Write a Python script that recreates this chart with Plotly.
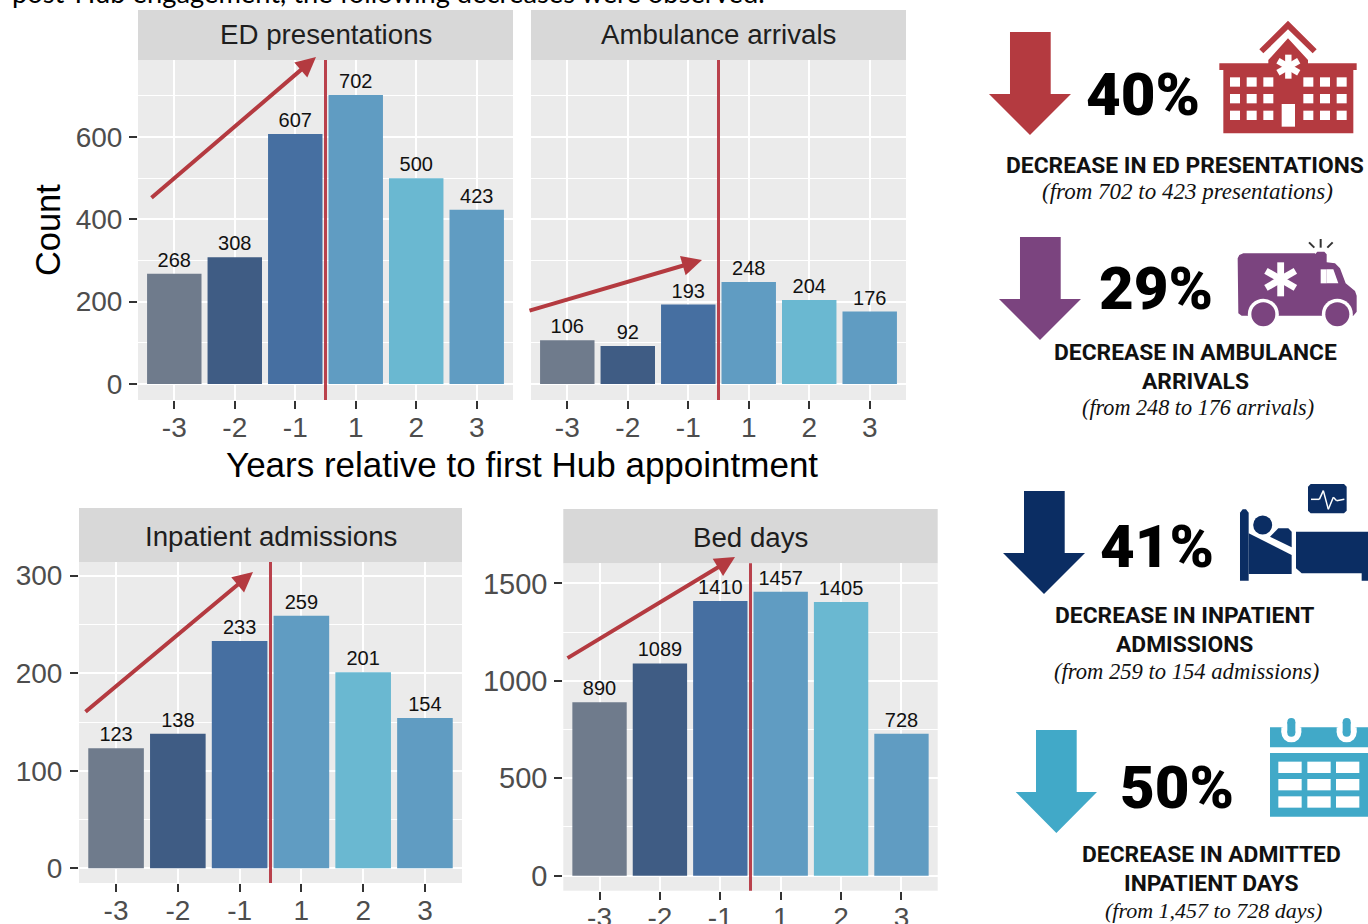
import math
import plotly.graph_objects as go

W, H = 1368, 924

# ---------- data ----------
categories = ["-3", "-2", "-1", "1", "2", "3"]
ed_presentations = [268, 308, 607, 702, 500, 423]
ambulance_arrivals = [106, 92, 193, 248, 204, 176]
inpatient_admissions = [123, 138, 233, 259, 201, 154]
bed_days = [890, 1089, 1410, 1457, 1405, 728]
bar_colors = ["rgba(105,118,135,0.96)", "rgba(55,85,127,0.96)", "rgba(62,105,157,0.96)",
              "rgba(89,152,192,0.96)", "rgba(100,181,207,0.96)", "rgba(89,152,192,0.96)"]

RED, PURPLE, NAVY, TEAL = "#B43A40", "#7B447F", "#0B2D63", "#41A9C8"
SANS, SERIF = "Liberation Sans", "Liberation Serif"


def X(p):
    return p / W


def Y(p):
    return 1 - p / H


panels = [
    dict(name="ED presentations", vals=ed_presentations, box=(138, 513, 60, 400), strip=10,
         yr=(-38.9, 787), dtick=200, minor=100, labels=True, tick=28, off=1, tail=(150, 199), tip=(316, 57)),
    dict(name="Ambulance arrivals", vals=ambulance_arrivals, box=(531, 906, 60, 400), strip=10,
         yr=(-38.9, 787), dtick=200, minor=100, labels=False, tick=28, off=1, tail=(528, 311), tip=(702, 260)),
    dict(name="Inpatient admissions", vals=inpatient_admissions, box=(79, 462, 562, 883), strip=508,
         yr=(-15, 314), dtick=100, minor=50, labels=True, tick=28, off=2, tail=(84, 713), tip=(253, 572)),
    dict(name="Bed days", vals=bed_days, box=(563.3, 937.7, 563.3, 890.7), strip=509,
         yr=(-77, 1603), dtick=500, minor=250, labels=True, tick=29, off=1, tail=(566, 659), tip=(735, 557)),
]

fig = go.Figure()
shapes, annos = [], []


def text(x, y, s, size, family=SANS, color="#000", **kw):
    fnt = dict(size=size, family=family, color=color)
    for k in ("weight", "style"):
        if k in kw:
            fnt[k] = kw.pop(k)
    annos.append(dict(x=X(x), y=Y(y), xref="paper", yref="paper", text=s, showarrow=False,
                      xanchor="center", yanchor="middle", font=fnt, **kw))


for i, p in enumerate(panels):
    sfx = "" if i == 0 else str(i + 1)
    l, r, t, b = p["box"]
    fig.add_trace(go.Bar(x=categories, y=p["vals"], text=p["vals"], textposition="outside",
                         textangle=0, cliponaxis=False, width=0.9,
                         textfont=dict(size=20, family=SANS, color="#111"),
                         marker=dict(color=bar_colors, line=dict(width=0)),
                         xaxis="x" + sfx, yaxis="y" + sfx, showlegend=False))
    fig.update_layout({
        "xaxis" + sfx: dict(domain=[X(l), X(r)], anchor="y" + sfx, type="category", automargin=False,
                            categoryorder="array", categoryarray=categories,
                            range=[-0.6, 5.6], showgrid=True, gridcolor="white", gridwidth=2,
                            ticks="outside", ticklen=8, tickwidth=2, tickcolor="#333",
                            ticklabelstandoff=-6,
                            tickfont=dict(size=28, family=SANS, color="#4D4D4D"),
                            zeroline=False, showline=False, fixedrange=True),
        "yaxis" + sfx: dict(domain=[Y(b), Y(t)], anchor="x" + sfx, range=list(p["yr"]), automargin=False,
                            dtick=p["dtick"], showgrid=True, gridcolor="white", gridwidth=2,
                            minor=dict(dtick=p["minor"], showgrid=True, gridcolor="white",
                                       gridwidth=1, ticks=""),
                            ticks="outside" if p["labels"] else "", ticklen=8, tickwidth=2,
                            tickcolor="#333", showticklabels=p["labels"], ticklabelstandoff=p["off"],
                            tickfont=dict(size=p["tick"], family=SANS, color="#4D4D4D"),
                            zeroline=False, showline=False, fixedrange=True),
    })
    # facet strip
    shapes.append(dict(type="rect", xref="paper", yref="paper", x0=X(l), x1=X(r), y0=Y(t), y1=Y(p["strip"]),
                       fillcolor="#D8D8D8", line=dict(width=0), layer="below"))
    text((l + r) / 2, (p["strip"] + t) / 2 - (1 if i < 2 else -1), p["name"], 27.7, color="#1E1E1E")
    # divider between year -1 and 1
    shapes.append(dict(type="line", xref="x" + sfx, yref="y" + sfx + " domain", x0=2.5, x1=2.5, y0=0, y1=1,
                       line=dict(color="rgba(180,50,62,0.92)", width=3)))
    # trend arrow
    annos.append(dict(x=X(p["tip"][0]), y=Y(p["tip"][1]), xref="paper", yref="paper", text="",
                      showarrow=True, arrowhead=2, arrowsize=1.0, arrowwidth=4, arrowcolor=RED,
                      axref="pixel", ayref="pixel", standoff=0,
                      ax=p["tail"][0] - p["tip"][0], ay=p["tail"][1] - p["tip"][1]))

text(48, 230, "Count", 34.4, textangle=-90)
text(522, 464, "Years relative to first Hub appointment", 35)
annos.append(dict(x=X(10), y=Y(-8), xref="paper", yref="paper", showarrow=False, xanchor="left", yanchor="middle",
                  text="post-Hub engagement, the following decreases were observed.",
                  font=dict(size=27.3, family="Lato", color="#000")))


# ---------- infographic drawing helpers (pixel space -> paper) ----------
def poly(pts, color, layer="above"):
    path = "M" + " L".join(f"{X(x):.5f},{Y(y):.5f}" for x, y in pts) + " Z"
    shapes.append(dict(type="path", xref="paper", yref="paper", path=path, fillcolor=color,
                       line=dict(width=0), layer=layer))


def rect(x0, y0, x1, y1, color):
    poly([(x0, y0), (x1, y0), (x1, y1), (x0, y1)], color)


def circ(cx, cy, rad, color):
    shapes.append(dict(type="circle", xref="paper", yref="paper", x0=X(cx - rad), x1=X(cx + rad),
                       y0=Y(cy + rad), y1=Y(cy - rad), fillcolor=color, line=dict(width=0)))


def star(cx, cy, rad, w, color):
    for a in (90, 30, -30):
        c, s = math.cos(math.radians(a)), math.sin(math.radians(a))
        nx, ny = -s, c
        poly([(cx + rad * c + w * nx, cy + rad * s + w * ny), (cx + rad * c - w * nx, cy + rad * s - w * ny),
              (cx - rad * c - w * nx, cy - rad * s - w * ny), (cx - rad * c + w * nx, cy - rad * s + w * ny)], color)


def down_arrow(l, r, top, neck, hl, hr, tip, color):
    poly([(l, top), (r, top), (r, neck), (hr, neck), ((hl + hr) / 2, tip), (hl, neck), (l, neck)], color)


def zoomer(ox, oy):
    return lambda x, y: (ox + x / 3, oy + y / 3)


down_arrow(1010, 1050.7, 32, 94, 989, 1071, 135, RED)
down_arrow(1020, 1060.7, 237, 299, 999, 1081, 340, PURPLE)
down_arrow(1024, 1064.7, 491, 553, 1003, 1085, 594, NAVY)
down_arrow(1036, 1076.7, 730, 792, 1015.7, 1097, 833, TEAL)

# hospital
z = zoomer(980, 0)
poly([z(*q) for q in [(838, 148), (924, 62), (1010, 148), (998, 160), (924, 88), (850, 160)]], RED)
poly([z(*q) for q in [(865, 180), (924, 115), (984, 180), (984, 190), (1130, 190), (1130, 210), (1120, 210),
                      (1120, 400), (730, 400), (730, 210), (718, 210), (718, 190), (865, 190)]], RED)
star(*z(925, 200), 12, 3.2, "white")
for cx in (750, 800, 850, 970, 1020, 1070):
    for cy in (232, 282, 332):
        rect(*z(cx, cy), *z(cx + 30, cy + 28), "white")
rect(*z(905, 312), *z(945, 380), "white")

# ambulance
z = zoomer(980, 225)
poly([z(*q) for q in [(773, 100), (778, 90), (790, 85), (1005, 85), (1005, 88), (1012, 80), (1033, 80), (1040, 88),
                      (1040, 112), (1065, 115), (1080, 130), (1097, 175), (1125, 198), (1130, 212), (1130, 260),
                      (1120, 272), (785, 272), (775, 265)]], PURPLE)
rect(*z(1022, 133), *z(1040, 175), "white")
poly([z(*q) for q in [(1040, 133), (1060, 133), (1075, 175), (1040, 175)]], "white")
star(*z(902, 163), 17, 3.4, "white")
for cx in (850, 1072):
    circ(*z(cx, 268), 15.5, "white")
    circ(*z(cx, 268), 12, PURPLE)
for q in [((1022, 42), (1022, 68)), ((987, 52), (1003, 68)), ((1058, 52), (1042, 68))]:
    a, b = z(*q[0]), z(*q[1])
    shapes.append(dict(type="line", xref="paper", yref="paper", x0=X(a[0]), x1=X(b[0]), y0=Y(a[1]), y1=Y(b[1]),
                       line=dict(color="#333", width=2)))

# bed
z = zoomer(980, 470)
poly([z(*q) for q in [(992, 42), (1092, 42), (1100, 50), (1100, 122), (1092, 130), (992, 130), (984, 122), (984, 50)]], NAVY)
ecg = [(993, 88), (1018, 88), (1030, 62), (1045, 118), (1060, 82), (1070, 92), (1093, 88)]
for q0, q1 in zip(ecg[:-1], ecg[1:]):
    a, b = z(*q0), z(*q1)
    shapes.append(dict(type="line", xref="paper", yref="paper", x0=X(a[0]), x1=X(b[0]), y0=Y(a[1]), y1=Y(b[1]),
                       line=dict(color="white", width=1.5)))
poly([z(*q) for q in [(780, 128), (788, 118), (798, 118), (806, 128), (806, 332), (780, 332)]], NAVY)
circ(*z(848, 165), 9.5, NAVY)
poly([z(*q) for q in [(806, 190), (935, 255), (935, 312), (806, 312)]], NAVY)
poly([z(*q) for q in [(870, 200), (895, 175), (925, 175), (935, 185), (935, 232)]], NAVY)
poly([z(*q) for q in [(948, 185), (1164, 185), (1164, 332), (1145, 332), (1145, 310), (965, 310), (948, 295)]], NAVY)

# calendar
z = zoomer(980, 704)
rect(*z(870, 70), *z(1164, 130), TEAL)
rect(*z(870, 147), *z(1164, 338), TEAL)
for cx in (934, 1100):
    rect(*z(cx - 30, 70), *z(cx + 30, 85), "white")
    circ(*z(cx, 85), 10, "white")
    rect(*z(cx - 12, 54), *z(cx + 12, 86), TEAL)
    circ(*z(cx, 54), 4, TEAL)
    circ(*z(cx, 86), 4, TEAL)
for cx in (895, 982, 1068):
    for cy in (173, 225, 277):
        rect(*z(cx, cy), *z(cx + 70, cy + 34), "white")

# ---------- infographic text ----------
pct = dict(size=60, family="Roboto", weight=900)
text(1142.8, 95, "40%", **pct)
text(1156, 288.7, "29%", **pct)
text(1156.7, 546, "41%", **pct)
text(1176.7, 787, "50%", **pct)

head = dict(size=22.8, family="Roboto", weight=700, color="#111")
note = dict(family=SERIF, style="italic", color="#111")
text(1184.7, 165, "DECREASE IN ED PRESENTATIONS", **head)
text(1187.5, 191, "(from 702 to 423 presentations)", 23, **note)
text(1195.5, 352, "DECREASE IN AMBULANCE", **head)
text(1195.5, 381.7, "ARRIVALS", **head)
text(1197.5, 408, "(from 248 to 176 arrivals)", 22.2, **note)
text(1184, 615, "DECREASE IN INPATIENT", **head)
text(1184, 644, "ADMISSIONS", **head)
text(1186, 671, "(from 259 to 154 admissions)", 22.6, **note)
text(1211, 854, "DECREASE IN ADMITTED", **head)
text(1211, 883, "INPATIENT DAYS", **head)
text(1213.8, 910, "(from 1,457 to 728 days)", 22, **note)

fig.update_layout(width=W, height=H, margin=dict(l=0, r=0, t=0, b=0), paper_bgcolor="white",
                  plot_bgcolor="#EBEBEB", barmode="overlay", showlegend=False,
                  shapes=shapes, annotations=annos, font=dict(family=SANS))

fig.write_html("out.html", config={"displayModeBar": False},
               post_script="document.body.style.margin='0';document.body.style.overflow='hidden';")
